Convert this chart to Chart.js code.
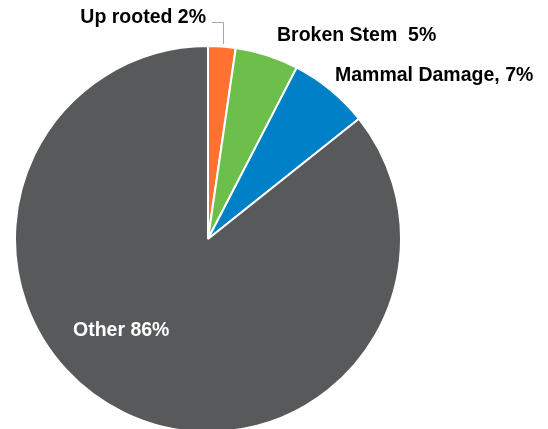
<!DOCTYPE html>
<html><head><meta charset="utf-8">
<script src="https://cdn.jsdelivr.net/npm/chart.js@4/dist/chart.umd.min.js"></script>
<style>html,body{margin:0;padding:0;background:#fff;overflow:hidden;}canvas{display:block;}</style>
</head><body>
<canvas id="c" width="548" height="433"></canvas>
<script>
const categories = ["Up rooted", "Broken Stem", "Mammal Damage", "Other"];
const values = [2.3, 5.3, 6.7, 85.7];
const labelTexts = ["Up rooted 2%", "Broken Stem  5%", "Mammal Damage, 7%", "Other 86%"];
const colors = ["#FF7232", "#6CBF4A", "#0080C6", "#58595B"];

const labelPlugin = {
  id: 'pieLabels',
  afterDraw(chart) {
    const ctx = chart.ctx;
    const meta = chart.getDatasetMeta(0);
    const a0 = meta.data[0];
    const cx = a0.x, cy = a0.y, r = a0.outerRadius;
    ctx.save();
    ctx.font = 'bold 19.5px "Liberation Sans", Arial, sans-serif';
    ctx.textBaseline = 'alphabetic';
    ctx.fillStyle = '#000';
    ctx.textAlign = 'right';
    ctx.fillText(labelTexts[0], cx - 2, cy - r - 23);
    ctx.strokeStyle = '#A6A6A6';
    ctx.lineWidth = 1;
    ctx.beginPath();
    ctx.moveTo(cx + 4, cy - r - 23.5);
    ctx.lineTo(cx + 15.5, cy - r - 23.5);
    ctx.lineTo(cx + 15.5, cy - r - 2);
    ctx.stroke();
    ctx.textAlign = 'left';
    ctx.fillText(labelTexts[1], cx + 69, cy - r - 5);
    ctx.fillText(labelTexts[2], cx + 127, cy - r + 35);
    ctx.fillStyle = '#fff';
    ctx.fillText(labelTexts[3], cx - 135, cy + 97);
    ctx.restore();
  }
};

new Chart(document.getElementById('c'), {
  type: 'pie',
  data: {
    labels: categories,
    datasets: [{
      data: values,
      backgroundColor: colors,
      borderColor: '#fff',
      borderWidth: 2
    }]
  },
  options: {
    responsive: false,
    animation: false,
    layout: { padding: { left: 14, right: 146, top: 45, bottom: 0 } },
    plugins: { legend: { display: false }, tooltip: { enabled: false } }
  },
  plugins: [labelPlugin]
});
</script>
</body></html>
